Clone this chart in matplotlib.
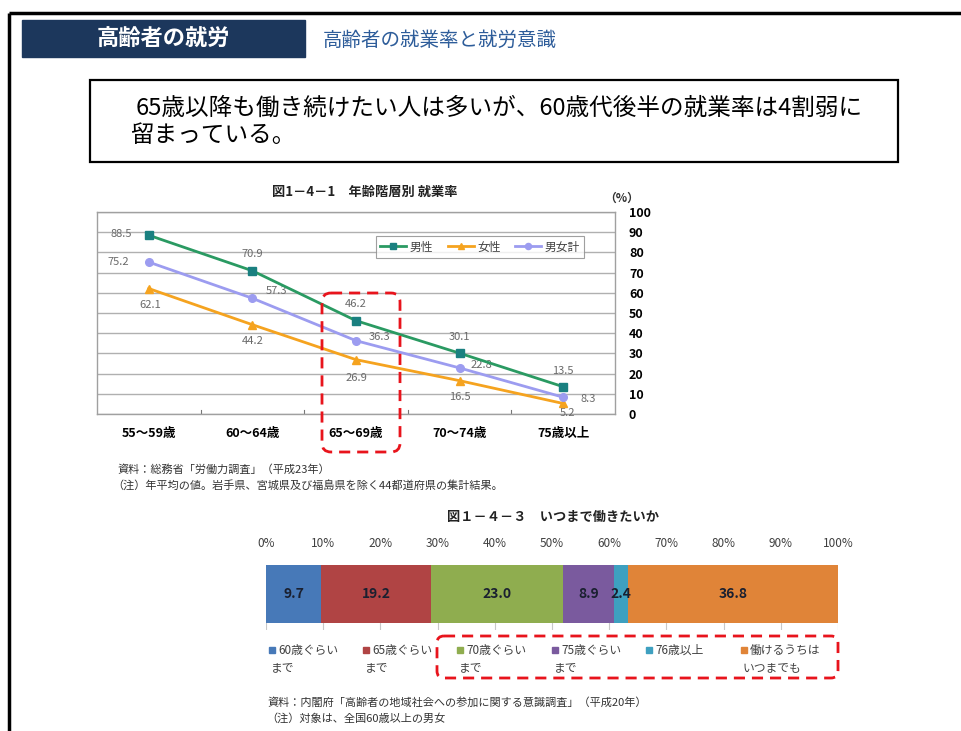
import matplotlib
matplotlib.use("Agg")
import matplotlib.pyplot as plt
from matplotlib.patches import Rectangle, FancyBboxPatch
import numpy as np

plt.rcParams['font.family'] = ['Noto Sans CJK JP', 'DejaVu Sans']

# ---------------- data ----------------
age_groups = ["55〜59歳", "60〜64歳", "65〜69歳", "70〜74歳", "75歳以上"]
male = [88.5, 70.9, 46.2, 30.1, 13.5]
female = [62.1, 44.2, 26.9, 16.5, 5.2]
total = [75.2, 57.3, 36.3, 22.8, 8.3]
series_names = ["男性", "女性", "男女計"]

work_until_labels = ["60歳ぐらい\nまで", "65歳ぐらい\nまで", "70歳ぐらい\nまで",
                     "75歳ぐらい\nまで", "76歳以上", "働けるうちは\nいつまでも"]
work_until_values = [9.7, 19.2, 23.0, 8.9, 2.4, 36.8]
pct_ticks = [0, 10, 20, 30, 40, 50, 60, 70, 80, 90, 100]

W, H = 962, 731
fig = plt.figure(figsize=(W / 100, H / 100), dpi=100)
fig.patch.set_facecolor("white")


def rect(x0, y0, x1, y1):
    return [x0 / W, 1 - y1 / H, (x1 - x0) / W, (y1 - y0) / H]


# ---------------- line chart ----------------
ax = fig.add_axes(rect(97, 212, 615, 414))
xs = np.arange(len(age_groups))
c_m_line, c_m_mark = "#2a9a62", "#1a8080"
c_f = "#f5a31f"
c_t = "#9c9cf0"
ax.plot(xs, male, color=c_m_line, lw=2, marker="s", ms=5.5,
        mfc=c_m_mark, mec=c_m_mark, label=series_names[0], zorder=4)
ax.plot(xs, female, color=c_f, lw=2, marker="^", ms=5.5,
        mfc=c_f, mec=c_f, label=series_names[1], zorder=4)
ax.plot(xs, total, color=c_t, lw=2, marker="o", ms=5.5,
        mfc=c_t, mec=c_t, label=series_names[2], zorder=4)
ax.set_xlim(-0.5, len(age_groups) - 0.5)
ax.set_ylim(0, 100)
ax.yaxis.tick_right()
ax.set_yticks(range(0, 101, 10))
ax.tick_params(axis="y", length=0, pad=10, labelsize=9)
for t in ax.get_yticklabels():
    t.set_fontweight("bold")
ax.set_xticks(xs)
ax.set_xticklabels(age_groups, fontsize=9, fontweight="bold")
ax.tick_params(axis="x", length=0, pad=9)
# small boundary ticks
for b in np.arange(0.5, len(age_groups) - 0.5, 1):
    ax.plot([b, b], [0, 1.8], color="#777777", lw=0.8, zorder=2)
ax.grid(axis="y", color="#b0b0b0", lw=1)
ax.set_axisbelow(True)
for s in ax.spines.values():
    s.set_color("#a0a0a0")
    s.set_linewidth(1)

lab_col = "#6a6a6a"
fs_lab = 8
off_m = [(-20, 1), (0, 12), (0, 12), (0, 12), (0, 11)]
off_t = [(-22, 0), (17, 5), (17, 3), (16, 2), (18, -1)]
off_f = [(1, -12), (0, -12), (0, -13), (0, -12), (3, -7)]
for i in range(len(xs)):
    ax.annotate(f"{male[i]:.1f}", (xs[i], male[i]), xytext=off_m[i],
                textcoords="offset points", ha="center", va="center",
                fontsize=fs_lab, color=lab_col)
    ax.annotate(f"{total[i]:.1f}", (xs[i], total[i]), xytext=off_t[i],
                textcoords="offset points", ha="center", va="center",
                fontsize=fs_lab, color=lab_col)
    ax.annotate(f"{female[i]:.1f}", (xs[i], female[i]), xytext=off_f[i],
                textcoords="offset points", ha="center", va="center",
                fontsize=fs_lab, color=lab_col)

leg = ax.legend(loc="center", bbox_to_anchor=(480 / W, 1 - 247 / H),
                bbox_transform=fig.transFigure, ncol=3, fontsize=8.5,
                frameon=True, fancybox=False, edgecolor="#888888",
                handlelength=2.2, columnspacing=1.2, handletextpad=0.3,
                borderpad=0.4, markerscale=0.8)
leg.get_frame().set_linewidth(0.8)
for t in leg.get_texts():
    t.set_color("#444444")

# ---------------- stacked bar ----------------
bx = fig.add_axes(rect(266, 565, 838, 630))
bar_colors = ["#4779b8", "#b04444", "#8fad4f", "#7a5a9e", "#3ea0c0", "#e08438"]
left = 0
for v, c in zip(work_until_values, bar_colors):
    bx.barh(0, v, left=left, height=1, color=c, align="edge", zorder=3)
    bx.text(left + v / 2, 0.5, f"{v:.1f}", ha="center", va="center",
            fontsize=10, fontweight="bold", color="#1a2030", zorder=4)
    left += v
bx.set_xlim(0, 100)
bx.set_ylim(-0.12, 1)
bx.xaxis.tick_top()
bx.set_xticks(pct_ticks)
bx.set_xticklabels([f"{p}%" for p in pct_ticks], fontsize=8.5, color="#404040")
bx.tick_params(axis="x", length=0, pad=11)
bx.set_yticks([])
for p in pct_ticks:
    bx.axvline(p, color="#c8c8c8", lw=0.8, zorder=1)
for s in bx.spines.values():
    s.set_visible(False)

# ---------------- overlay (slide decoration) ----------------
ov = fig.add_axes([0, 0, 1, 1], zorder=10)
ov.set_xlim(0, W)
ov.set_ylim(H, 0)
ov.axis("off")

# slide border
ov.plot([9.5, W], [12.5, 12.5], color="black", lw=2.5, solid_capstyle="butt")
ov.plot([9.5, 9.5], [12.5, H], color="black", lw=2.5, solid_capstyle="butt")

# header
ov.add_patch(Rectangle((22, 20), 283, 37, color="#1c375c"))
ov.text(163, 39, "高齢者の就労", color="white", fontsize=16, fontweight="bold",
        ha="center", va="center")
ov.text(323, 40, "高齢者の就業率と就労意識", color="#2e5d9a", fontsize=14,
        ha="left", va="center")

# message box
ov.add_patch(Rectangle((90, 80), 808, 82, fill=False, ec="black", lw=1.6))
ov.text(136, 108, "65歳以降も働き続けたい人は多いが、60歳代後半の就業率は4割弱に",
        fontsize=17, ha="left", va="center", color="black")
ov.text(130, 136, "留まっている。", fontsize=17, ha="left", va="center", color="black")

# line chart title and unit
ov.text(365, 192, "図1－4－1　年齢階層別 就業率", fontsize=9.5, fontweight="bold",
        ha="center", va="center", color="#222222")
ov.text(622, 198, "（%）", fontsize=8.5, fontweight="bold", ha="center",
        va="center", color="#333333")

# line chart notes
ov.text(118, 469, "資料：総務省「労働力調査」（平成23年）", fontsize=8,
        ha="left", va="center", color="#333333")
ov.text(112, 485, "（注）年平均の値。岩手県、宮城県及び福島県を除く44都道府県の集計結果。",
        fontsize=8, ha="left", va="center", color="#333333")

# red dashed box (line chart)
ov.add_patch(FancyBboxPatch((322, 293), 78, 159,
                            boxstyle="round,pad=0,rounding_size=9",
                            fill=False, ec="#e8141c", lw=2, ls=(0, (4, 2.5))))

# bar chart title
ov.text(553, 517, "図１－４－３　いつまで働きたいか", fontsize=9.5, fontweight="bold",
        ha="center", va="center", color="#222222")

# bar legend
leg_x = [272, 366, 460, 555, 649, 744]
for xl, lab, c in zip(leg_x, work_until_labels, bar_colors):
    ov.add_patch(Rectangle((xl - 3, 647), 6, 6, color=c))
    lines = lab.split("\n")
    ov.text(xl + 6, 650, lines[0], fontsize=8.5, ha="left", va="center",
            color="#404040")
    if len(lines) > 1:
        ov.text(xl - 1, 668, lines[1], fontsize=8.5, ha="left", va="center",
                color="#404040")

ov.add_patch(FancyBboxPatch((437, 636), 401, 42,
                            boxstyle="round,pad=0,rounding_size=7",
                            fill=False, ec="#e8141c", lw=2, ls=(0, (4, 2.5))))

# bar notes
ov.text(268, 702, "資料：内閣府「高齢者の地域社会への参加に関する意識調査」（平成20年）",
        fontsize=8, ha="left", va="center", color="#333333")
ov.text(266, 718, "（注）対象は、全国60歳以上の男女", fontsize=8, ha="left",
        va="center", color="#333333")

fig.savefig("out.png", dpi=100)
